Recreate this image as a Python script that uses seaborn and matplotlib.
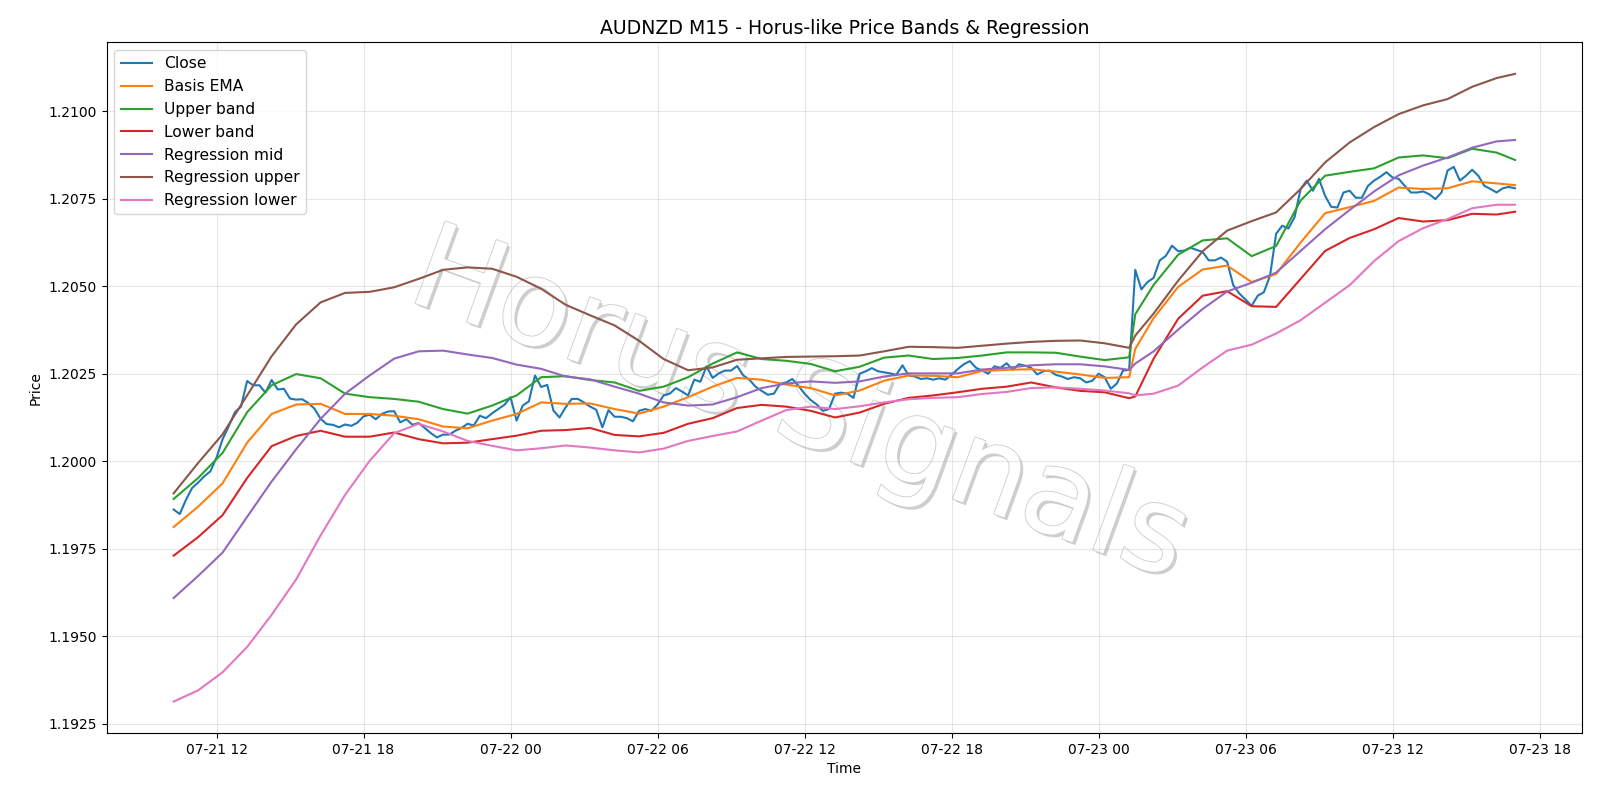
import numpy as np
import pandas as pd
import matplotlib
matplotlib.use("Agg")
import matplotlib.pyplot as plt
import matplotlib.dates as mdates
import matplotlib.ticker as mticker
import matplotlib.patheffects as pe
import seaborn as sns

# ---------------- data ----------------
close_times = pd.date_range("2025-07-21 10:15", periods=220, freq="15min")

close = [
    1.19862, 1.19849, 1.19889, 1.19923, 1.19939, 1.19957, 1.19971, 1.20010, 1.20063, 1.20100,
    1.20140, 1.20156, 1.20229, 1.20217, 1.20217, 1.20196, 1.20232, 1.20205, 1.20207, 1.20179,
    1.20176, 1.20177, 1.20166, 1.20150, 1.20121, 1.20106, 1.20104, 1.20097, 1.20105, 1.20101,
    1.20110, 1.20128, 1.20133, 1.20120, 1.20135, 1.20142, 1.20143, 1.20111, 1.20120, 1.20104,
    1.20109, 1.20095, 1.20080, 1.20068, 1.20076, 1.20076, 1.20087, 1.20095, 1.20107, 1.20102,
    1.20130, 1.20123, 1.20137, 1.20149, 1.20161, 1.20183, 1.20116, 1.20159, 1.20171, 1.20245,
    1.20212, 1.20218, 1.20145, 1.20125, 1.20154, 1.20178, 1.20178, 1.20168, 1.20156, 1.20147,
    1.20097, 1.20146, 1.20127, 1.20127, 1.20123, 1.20114, 1.20144, 1.20149, 1.20144, 1.20162,
    1.20188, 1.20193, 1.20209, 1.20199, 1.20188, 1.20233, 1.20227, 1.20271, 1.20238, 1.20251,
    1.20259, 1.20259, 1.20272, 1.20245, 1.20233, 1.20213, 1.20201, 1.20190, 1.20193, 1.20221,
    1.20225, 1.20235, 1.20216, 1.20193, 1.20175, 1.20162, 1.20144, 1.20149, 1.20193, 1.20196,
    1.20193, 1.20181, 1.20250, 1.20257, 1.20266, 1.20257, 1.20254, 1.20251, 1.20247, 1.20274,
    1.20245, 1.20242, 1.20235, 1.20237, 1.20233, 1.20237, 1.20233, 1.20247, 1.20263, 1.20277,
    1.20286, 1.20267, 1.20259, 1.20250, 1.20271, 1.20267, 1.20280, 1.20261, 1.20277, 1.20273,
    1.20267, 1.20248, 1.20257, 1.20259, 1.20247, 1.20242, 1.20235, 1.20240, 1.20237, 1.20225,
    1.20230, 1.20250, 1.20240, 1.20207, 1.20222, 1.20259, 1.20261, 1.20547, 1.20491, 1.20512,
    1.20524, 1.20574, 1.20587, 1.20616, 1.20600, 1.20602, 1.20610, 1.20604, 1.20598, 1.20574,
    1.20574, 1.20582, 1.20570, 1.20503, 1.20479, 1.20462, 1.20444, 1.20473, 1.20483, 1.20530,
    1.20650, 1.20673, 1.20665, 1.20697, 1.20778, 1.20802, 1.20773, 1.20807, 1.20758, 1.20727,
    1.20725, 1.20768, 1.20773, 1.20753, 1.20753, 1.20787, 1.20802, 1.20813, 1.20826, 1.20811,
    1.20807, 1.20787, 1.20768, 1.20768, 1.20771, 1.20763, 1.20749, 1.20768, 1.20831, 1.20841,
    1.20802, 1.20816, 1.20833, 1.20816, 1.20787, 1.20778, 1.20768, 1.20780, 1.20784, 1.20780,
]

# hourly samples of the smooth indicator lines (+ jump bar and last bar)
smooth_times = list(pd.date_range("2025-07-21 10:15", "2025-07-23 16:15", freq="1h"))
smooth_times.insert(40, pd.Timestamp("2025-07-23 01:30"))
smooth_times.append(pd.Timestamp("2025-07-23 17:00"))

basis_ema = [
    1.19812, 1.19870, 1.19937, 1.20053, 1.20135, 1.20162, 1.20164, 1.20135, 1.20135, 1.20130,
    1.20120, 1.20099, 1.20094, 1.20116, 1.20135, 1.20168, 1.20164, 1.20165, 1.20149, 1.20136,
    1.20156, 1.20183, 1.20213, 1.20238, 1.20233, 1.20219, 1.20209, 1.20188, 1.20202, 1.20230,
    1.20245, 1.20244, 1.20240, 1.20258, 1.20261, 1.20263, 1.20256, 1.20248, 1.20238, 1.20240,
    1.20321,
    1.20409, 1.20498, 1.20548, 1.20559, 1.20512, 1.20535, 1.20625, 1.20709, 1.20726, 1.20744,
    1.20782, 1.20778, 1.20780, 1.20800, 1.20794,
    1.20789,
]
upper_band = [
    1.19892, 1.19952, 1.20024, 1.20140, 1.20217, 1.20249, 1.20237, 1.20193, 1.20183, 1.20178,
    1.20170, 1.20149, 1.20136, 1.20159, 1.20188, 1.20240, 1.20243, 1.20232, 1.20225, 1.20201,
    1.20213, 1.20240, 1.20279, 1.20311, 1.20292, 1.20287, 1.20278, 1.20257, 1.20270, 1.20296,
    1.20302, 1.20292, 1.20295, 1.20302, 1.20311, 1.20311, 1.20310, 1.20299, 1.20289, 1.20297,
    1.20420,
    1.20504, 1.20590, 1.20631, 1.20637, 1.20586, 1.20615, 1.20745, 1.20816, 1.20827, 1.20837,
    1.20868, 1.20874, 1.20866, 1.20893, 1.20882,
    1.20861,
]
lower_band = [
    1.19730, 1.19783, 1.19846, 1.19952, 1.20043, 1.20072, 1.20087, 1.20070, 1.20070, 1.20082,
    1.20063, 1.20051, 1.20053, 1.20063, 1.20073, 1.20087, 1.20089, 1.20095, 1.20075, 1.20071,
    1.20081, 1.20107, 1.20123, 1.20152, 1.20161, 1.20156, 1.20144, 1.20125, 1.20139, 1.20164,
    1.20181, 1.20188, 1.20197, 1.20207, 1.20213, 1.20225, 1.20211, 1.20201, 1.20197, 1.20180,
    1.20185,
    1.20293, 1.20407, 1.20473, 1.20486, 1.20443, 1.20441, 1.20521, 1.20601, 1.20638, 1.20663,
    1.20695, 1.20685, 1.20689, 1.20707, 1.20705,
    1.20713,
]
regression_mid = [
    1.19609, 1.19672, 1.19739, 1.19841, 1.19942, 1.20034, 1.20121, 1.20193, 1.20245, 1.20293,
    1.20314, 1.20316, 1.20305, 1.20295, 1.20276, 1.20264, 1.20242, 1.20234, 1.20213, 1.20193,
    1.20168, 1.20159, 1.20162, 1.20183, 1.20209, 1.20222, 1.20228, 1.20224, 1.20228, 1.20242,
    1.20251, 1.20251, 1.20251, 1.20262, 1.20267, 1.20274, 1.20277, 1.20277, 1.20271, 1.20261,
    1.20279,
    1.20314, 1.20376, 1.20435, 1.20485, 1.20510, 1.20539, 1.20601, 1.20663, 1.20718, 1.20771,
    1.20817, 1.20845, 1.20868, 1.20896, 1.20914,
    1.20918,
]
regression_upper = [
    1.19908, 1.19995, 1.20077, 1.20188, 1.20300, 1.20391, 1.20454, 1.20481, 1.20484, 1.20497,
    1.20521, 1.20547, 1.20554, 1.20550, 1.20527, 1.20493, 1.20447, 1.20417, 1.20388, 1.20344,
    1.20292, 1.20260, 1.20268, 1.20290, 1.20294, 1.20298, 1.20299, 1.20300, 1.20302, 1.20314,
    1.20327, 1.20326, 1.20324, 1.20330, 1.20336, 1.20341, 1.20344, 1.20345, 1.20337, 1.20324,
    1.20359,
    1.20422, 1.20516, 1.20600, 1.20659, 1.20686, 1.20711, 1.20778, 1.20854, 1.20911, 1.20955,
    1.20992, 1.21017, 1.21035, 1.21070, 1.21095,
    1.21107,
]
regression_lower = [
    1.19313, 1.19345, 1.19397, 1.19469, 1.19561, 1.19662, 1.19788, 1.19904, 1.20001, 1.20080,
    1.20107, 1.20085, 1.20058, 1.20044, 1.20031, 1.20037, 1.20045, 1.20039, 1.20031, 1.20025,
    1.20036, 1.20058, 1.20072, 1.20085, 1.20116, 1.20146, 1.20156, 1.20149, 1.20157, 1.20168,
    1.20177, 1.20181, 1.20183, 1.20192, 1.20198, 1.20209, 1.20211, 1.20207, 1.20202, 1.20194,
    1.20188,
    1.20193, 1.20216, 1.20268, 1.20316, 1.20333, 1.20365, 1.20403, 1.20453, 1.20503, 1.20572,
    1.20629, 1.20666, 1.20692, 1.20723, 1.20733,
    1.20733,
]

# ---------------- plot ----------------
fig, ax = plt.subplots(figsize=(16, 8), dpi=100)
fig.subplots_adjust(left=0.0666, right=0.9888, bottom=0.0838, top=0.9469)

palette = sns.color_palette("tab10")

close_df = pd.DataFrame({"Time": close_times, "Price": close})
sns.lineplot(data=close_df, x="Time", y="Price", ax=ax, color=palette[0],
             label="Close", linewidth=1.5, estimator=None)

smooth_df = pd.DataFrame({
    "Time": smooth_times,
    "Basis EMA": basis_ema,
    "Upper band": upper_band,
    "Lower band": lower_band,
    "Regression mid": regression_mid,
    "Regression upper": regression_upper,
    "Regression lower": regression_lower,
})
for k, name in enumerate(["Basis EMA", "Upper band", "Lower band", "Regression mid",
                          "Regression upper", "Regression lower"]):
    sns.lineplot(data=smooth_df, x="Time", y=name, ax=ax, color=palette[k + 1],
                 label=name, linewidth=1.5, estimator=None)

ax.xaxis.set_major_locator(mdates.HourLocator(byhour=[0, 6, 12, 18]))
ax.xaxis.set_major_formatter(mdates.DateFormatter("%m-%d %H"))
ax.yaxis.set_major_locator(mticker.MultipleLocator(0.0025))
ax.yaxis.set_major_formatter(mticker.FormatStrFormatter("%.4f"))
ax.grid(True, alpha=0.3)
ax.set_title("AUDNZD M15 - Horus-like Price Bands & Regression", fontsize=13.6)
ax.set_xlabel("Time")
ax.set_ylabel("Price")
ax.legend(loc="upper left", fontsize=11.2)

ax.text(0.5, 0.49, "Horus Signals", transform=fig.transFigure, fontsize=86,
        color="white", rotation=-20, ha="center", va="center", zorder=1,
        path_effects=[pe.SimplePatchShadow(offset=(2, -2),
                                           shadow_rgbFace=(0.62, 0.62, 0.62),
                                           alpha=0.5),
                      pe.Stroke(linewidth=1.2, foreground=(0.8, 0.8, 0.8)),
                      pe.Normal()])

fig.savefig("out.png", dpi=100)
